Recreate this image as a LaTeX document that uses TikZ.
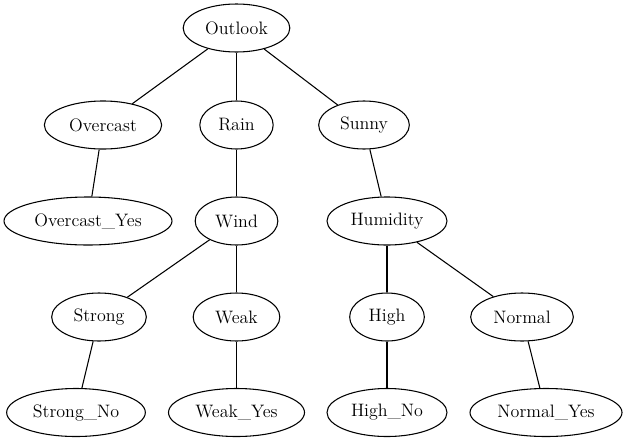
\documentclass[tikz,border=0pt]{standalone}
\usetikzlibrary{shapes.geometric, positioning, calc}

\begin{document}
\begin{tikzpicture}[x=0.75pt, y=-0.75pt,
        tnode/.style={draw, ellipse, line width=0.8pt, inner sep=0pt,
            minimum height=36pt, font=\rmfamily\fontsize{13.5}{16}\selectfont},
        tedge/.style={line width=0.8pt}]

        % Khung ảnh
        \useasboundingbox (0,0) rectangle (627,443);

        % Tầng 0
        \node[tnode, minimum width=80pt] (outlook) at (236.5, 28) {Outlook};

        % Tầng 1
        \node[tnode, minimum width=88pt] (overcast) at (103, 125) {Overcast};
        \node[tnode, minimum width=55pt] (rain) at (236.5, 125) {Rain};
        \node[tnode, minimum width=68pt] (sunny) at (364, 125) {Sunny};

        % Tầng 2
        \node[tnode, minimum width=126pt] (overcast_yes) at (88, 221) {Overcast\_Yes};
        \node[tnode, minimum width=62pt] (wind) at (236.5, 221) {Wind};
        \node[tnode, minimum width=90pt] (humidity) at (387, 221) {Humidity};

        % Tầng 3
        \node[tnode, minimum width=71pt] (strong) at (99, 317) {Strong};
        \node[tnode, minimum width=65pt] (weak) at (236.5, 317) {Weak};
        \node[tnode, minimum width=56pt] (high) at (387, 317) {High};
        \node[tnode, minimum width=77pt] (normal) at (522, 317) {Normal};

        % Tầng 4 (lá)
        \node[tnode, minimum width=104pt] (strong_no) at (76, 412.5) {Strong\_No};
        \node[tnode, minimum width=102pt] (weak_yes) at (236.5, 412.5) {Weak\_Yes};
        \node[tnode, minimum width=90pt] (high_no) at (387, 412.5) {High\_No};
        \node[tnode, minimum width=114pt] (normal_yes) at (546, 412.5) {Normal\_Yes};

        % Các cạnh
        \draw[tedge] (outlook) -- (overcast);
        \draw[tedge] (outlook) -- (rain);
        \draw[tedge] (outlook) -- (sunny);
        \draw[tedge] (overcast) -- (overcast_yes);
        \draw[tedge] (rain) -- (wind);
        \draw[tedge] (sunny) -- (humidity);
        \draw[tedge] (wind) -- (strong);
        \draw[tedge] (wind) -- (weak);
        \draw[tedge] (humidity) -- (high);
        \draw[tedge] (humidity) -- (normal);
        \draw[tedge] (strong) -- (strong_no);
        \draw[tedge] (weak) -- (weak_yes);
        \draw[tedge] (high) -- (high_no);
        \draw[tedge] (normal) -- (normal_yes);

    \end{tikzpicture}
\end{document}
